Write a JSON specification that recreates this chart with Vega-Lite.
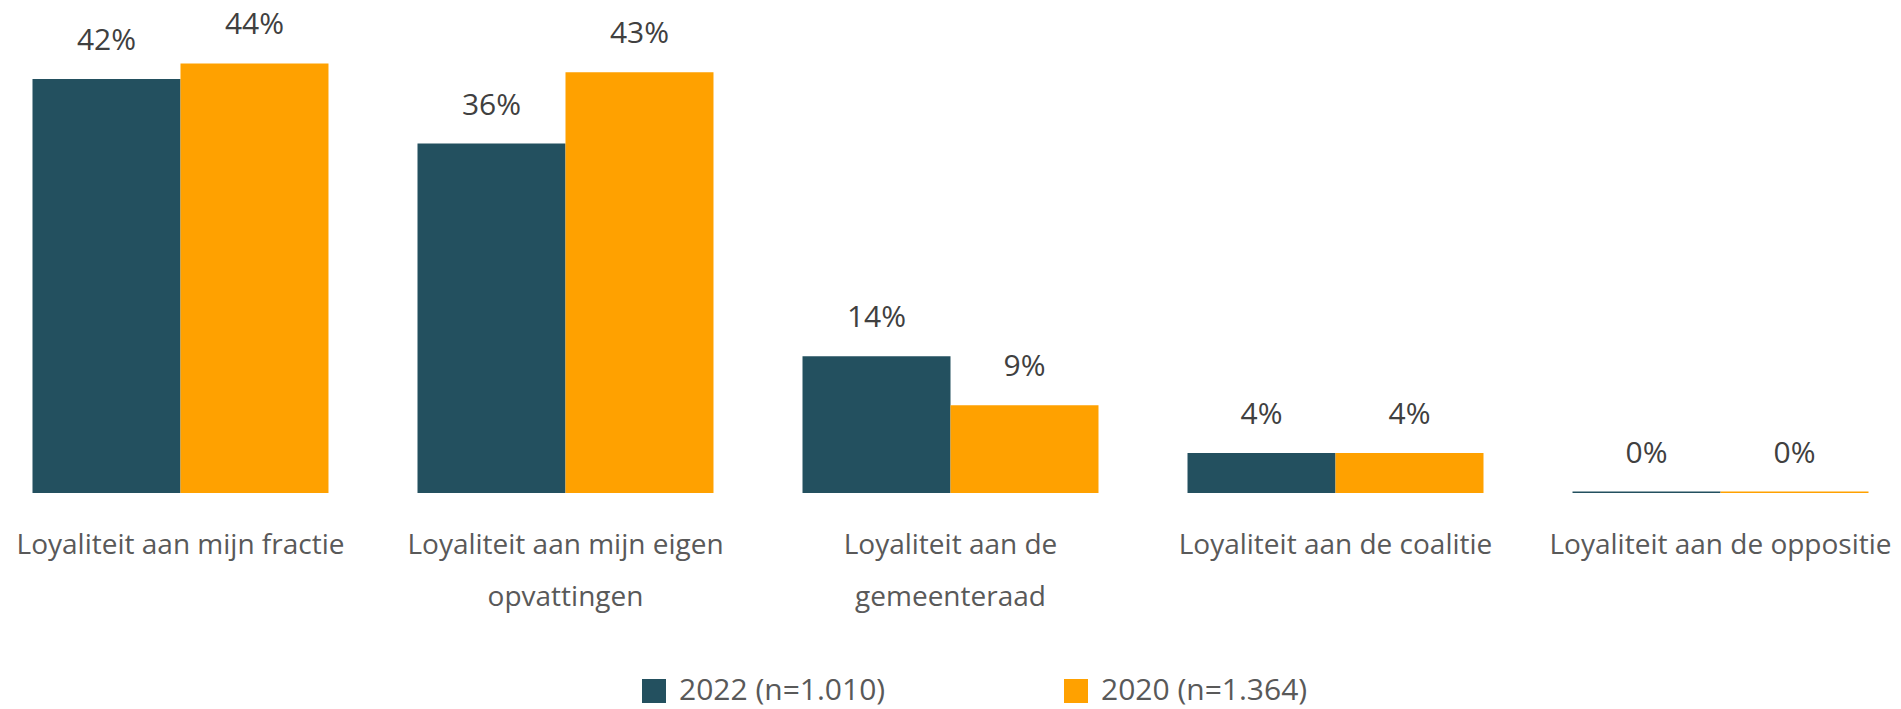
{
  "$schema": "https://vega.github.io/schema/vega-lite/v6.json",
  "width": 1901,
  "height": 493,
  "padding": {"left": 0, "top": 0, "right": 0, "bottom": 216},
  "autosize": {"type": "none"},
  "background": "white",
  "config": {
    "view": {"stroke": null},
    "font": "Open Sans"
  },
  "data": {
    "values": [
      {"categorie": "Loyaliteit aan mijn fractie", "jaar": "2022 (n=1.010)", "waarde": 0.424},
      {"categorie": "Loyaliteit aan mijn fractie", "jaar": "2020 (n=1.364)", "waarde": 0.440},
      {"categorie": "Loyaliteit aan mijn eigen opvattingen", "jaar": "2022 (n=1.010)", "waarde": 0.358},
      {"categorie": "Loyaliteit aan mijn eigen opvattingen", "jaar": "2020 (n=1.364)", "waarde": 0.431},
      {"categorie": "Loyaliteit aan de gemeenteraad", "jaar": "2022 (n=1.010)", "waarde": 0.140},
      {"categorie": "Loyaliteit aan de gemeenteraad", "jaar": "2020 (n=1.364)", "waarde": 0.090},
      {"categorie": "Loyaliteit aan de coalitie", "jaar": "2022 (n=1.010)", "waarde": 0.041},
      {"categorie": "Loyaliteit aan de coalitie", "jaar": "2020 (n=1.364)", "waarde": 0.041},
      {"categorie": "Loyaliteit aan de oppositie", "jaar": "2022 (n=1.010)", "waarde": 0.0015},
      {"categorie": "Loyaliteit aan de oppositie", "jaar": "2020 (n=1.364)", "waarde": 0.0015}
    ]
  },
  "encoding": {
    "x": {
      "field": "categorie",
      "type": "nominal",
      "sort": null,
      "scale": {"paddingInner": 0.2312, "paddingOuter": 0.0844},
      "axis": {
        "title": null,
        "domain": false,
        "ticks": false,
        "labelAngle": 0,
        "labelFont": "Open Sans",
        "labelFontSize": 28,
        "labelColor": "#595959",
        "labelPadding": 38,
        "labelLineHeight": 52,
        "labelLimit": 500,
        "labelOverlap": false,
        "labelBound": false,
        "labelExpr": "datum.label == 'Loyaliteit aan mijn eigen opvattingen' ? ['Loyaliteit aan mijn eigen', 'opvattingen'] : datum.label == 'Loyaliteit aan de gemeenteraad' ? ['Loyaliteit aan de', 'gemeenteraad'] : datum.label"
      }
    },
    "xOffset": {
      "field": "jaar",
      "type": "nominal",
      "scale": {"domain": ["2022 (n=1.010)", "2020 (n=1.364)"], "paddingInner": 0, "paddingOuter": 0}
    },
    "y": {
      "field": "waarde",
      "type": "quantitative",
      "scale": {"domain": [0, 0.505], "nice": false, "zero": true},
      "axis": null
    }
  },
  "layer": [
    {
      "mark": {"type": "bar"},
      "encoding": {
        "color": {
          "field": "jaar",
          "type": "nominal",
          "scale": {"domain": ["2022 (n=1.010)", "2020 (n=1.364)"], "range": ["#23505F", "#FFA100"]},
          "legend": {
            "title": null,
            "orient": "none",
            "legendX": 639,
            "legendY": 676,
            "direction": "horizontal",
            "columns": 2,
            "columnPadding": 175,
            "padding": 0,
            "symbolType": "square",
            "symbolSize": 576,
            "symbolStrokeWidth": 0,
            "labelFont": "Open Sans",
            "labelFontSize": 30,
            "labelColor": "#595959",
            "labelOffset": 10,
            "labelLimit": 400
          }
        }
      }
    },
    {
      "mark": {"type": "text", "baseline": "alphabetic", "dy": -29, "fontSize": 30, "font": "Open Sans", "color": "#404040"},
      "encoding": {
        "text": {"field": "waarde", "type": "quantitative", "format": ".0%"}
      }
    }
  ]
}
